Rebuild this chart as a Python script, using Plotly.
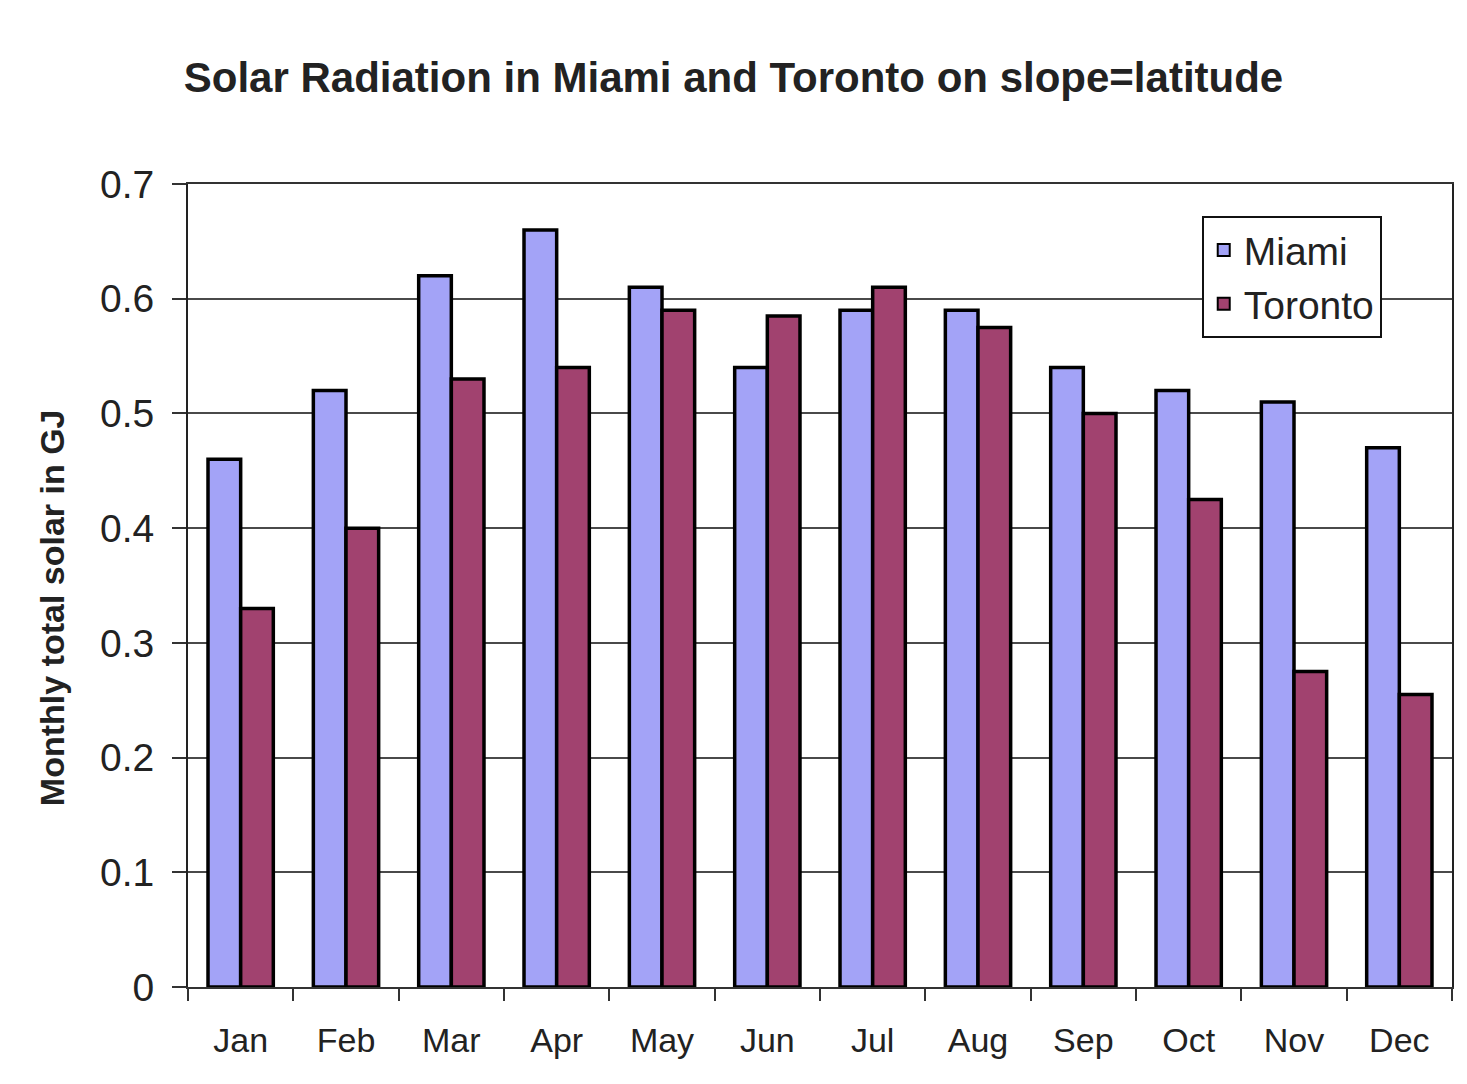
import plotly.graph_objects as go

# Monthly total solar radiation on a surface tilted at latitude (GJ)
months = ["Jan", "Feb", "Mar", "Apr", "May", "Jun",
          "Jul", "Aug", "Sep", "Oct", "Nov", "Dec"]
miami = [0.46, 0.52, 0.62, 0.66, 0.61, 0.54, 0.59, 0.59, 0.54, 0.52, 0.51, 0.47]
toronto = [0.33, 0.40, 0.53, 0.54, 0.59, 0.585, 0.61, 0.575, 0.50, 0.425, 0.275, 0.255]
y_ticks = [0, 0.1, 0.2, 0.3, 0.4, 0.5, 0.6, 0.7]

FONT = "Liberation Sans, Arial, sans-serif"
TEXT = "#222222"

fig = go.Figure()
fig.add_trace(go.Bar(
    name="Miami", x=months, y=miami,
    marker=dict(color="#A3A3F7", line=dict(color="#000000", width=3.5)),
))
fig.add_trace(go.Bar(
    name="Toronto", x=months, y=toronto,
    marker=dict(color="#A1426F", line=dict(color="#000000", width=3.5)),
))

fig.update_layout(
    width=1467, height=1084,
    margin=dict(l=188, r=15, t=184, b=97),
    paper_bgcolor="white", plot_bgcolor="white",
    barmode="group", bargap=0.38, bargroupgap=0,
    font=dict(family=FONT, color=TEXT),
    title=dict(
        text="<b>Solar Radiation in Miami and Toronto on slope=latitude</b>",
        x=0.5, xanchor="center", xref="container",
        y=1 - 77 / 1084, yanchor="middle",
        font=dict(size=42, family=FONT, color=TEXT),
    ),
    legend=dict(
        x=0.802, y=0.96, xanchor="left", yanchor="top",
        bgcolor="white", bordercolor="#111111", borderwidth=2,
        font=dict(size=39, family=FONT, color=TEXT),
        itemsizing="constant", tracegroupgap=0,
    ),
    showlegend=True,
)

# Vertical axis label, placed beside the tick labels
fig.add_annotation(
    text="<b>Monthly total solar in GJ</b>",
    textangle=-90, showarrow=False,
    xref="paper", yref="paper", x=-0.1076, y=0.473,
    xanchor="center", yanchor="middle",
    font=dict(size=34, family=FONT, color=TEXT),
)

fig.update_xaxes(
    type="category", tickson="boundaries",
    showline=True, linecolor="#333333", linewidth=2, mirror=True,
    ticks="outside", ticklen=12, tickwidth=2, tickcolor="#333333",
    tickfont=dict(size=34, family=FONT, color=TEXT),
    ticklabelstandoff=22,
    showgrid=False,
)
fig.update_yaxes(
    range=[0, 0.7], tickvals=y_ticks,
    ticktext=[("%g" % v) for v in y_ticks],
    showline=True, linecolor="#222222", linewidth=2, mirror=True,
    ticks="outside", ticklen=14, tickwidth=2, tickcolor="#333333",
    tickfont=dict(size=39, family=FONT, color=TEXT),
    ticklabelstandoff=10,
    showgrid=True, gridcolor="#4a4a4a", gridwidth=2,
    zeroline=False,
)

fig.write_html("out.html")
